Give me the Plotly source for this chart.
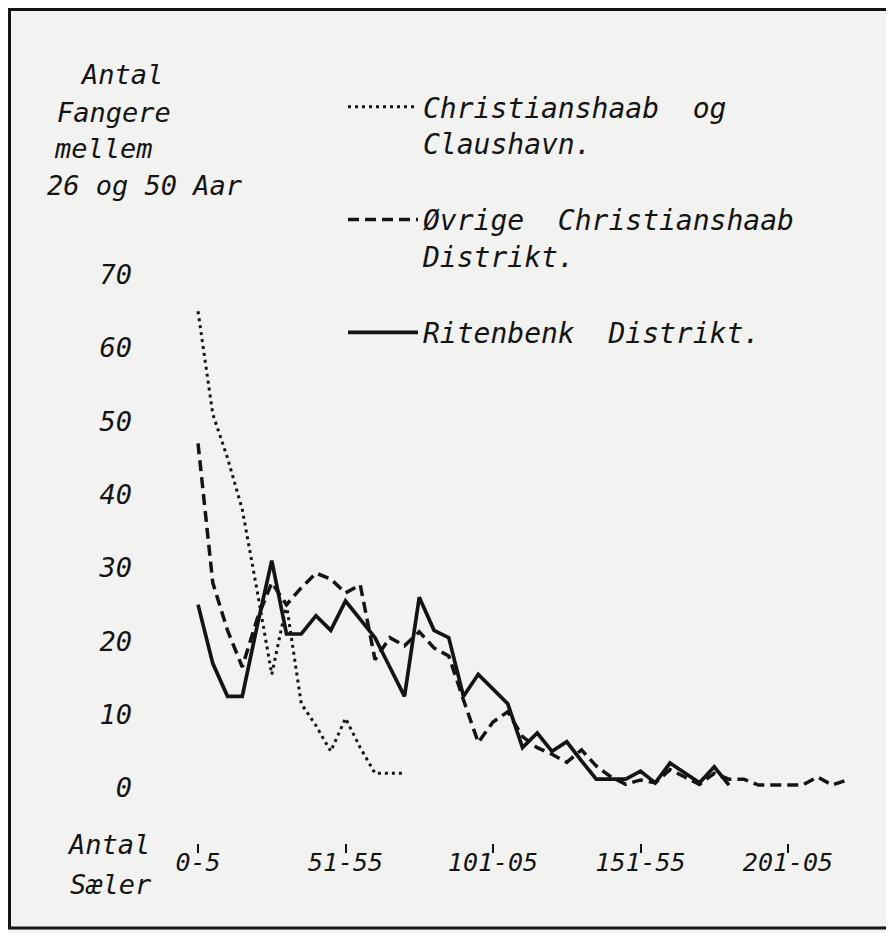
import plotly.graph_objects as go

# ---- data -----------------------------------------------------------
categories = ["0-5"] + [f"{a}-{a+4}" for a in range(6, 226, 5)]
tick_vals = ["0-5", "51-55", "101-105", "151-155", "201-205"]
tick_text = ["0-5", "51-55", "101-05", "151-55", "201-05"]
y_ticks = [0, 10, 20, 30, 40, 50, 60, 70]

christianshaab_claushavn = [65, 51, 45, 38, 27, 15.5, 25, 11.5, 8.5, 5, 9.5, 5.5, 2, 2, 2]
oevrige_christianshaab = [47, 28, 21.5, 16.5, 23, 28, 25, 27.3, 29.3, 28.5, 26.6, 27.7,
                          17.5, 20.5, 19.4, 21.3, 19.1, 18, 12, 6.2, 9, 10.4, 7, 5.5,
                          4.6, 3.5, 5.2, 3, 1.5, 0.5, 1.1, 0.7, 2.5, 1.5, 0.5, 2, 1.2,
                          1.2, 0.4, 0.4, 0.4, 0.4, 1.5, 0.4, 1.1]
ritenbenk = [25, 17, 12.5, 12.5, 22, 31, 21, 21, 23.5, 21.5, 25.5, 23, 20.5, 16.5,
             12.5, 26, 21.5, 20.5, 12.5, 15.5, 13.5, 11.5, 5.5, 7.5, 5, 6.3, 3.7,
             1.2, 1.2, 1.2, 2.3, 0.7, 3.4, 2, 0.7, 2.9, 0.4]

names = ["Christianshaab  og<br>Claushavn.",
         "Øvrige  Christianshaab<br>Distrikt.",
         "Ritenbenk  Distrikt."]

# ---- layout geometry (page body has an 8px margin) -----------------------
OFF = 8
FW, FH = 894 - OFF, 933 - OFF
L, R, T, B = 143 - OFF, 24, 238 - OFF, 90
PW, PH = FW - L - R, FH - T - B


def px(x):  # window pixel -> paper x
    return (x - OFF - L) / PW


def py(y):  # window pixel -> paper y
    return (FH - B - (y - OFF)) / PH


INK = "#141414"
FONT = dict(family="DejaVu Sans Mono", size=27, color=INK, style="italic")
LEGFONT = dict(family="DejaVu Sans Mono", size=28, color=INK, style="italic")

fig = go.Figure()
fig.add_trace(go.Scatter(x=categories[:len(christianshaab_claushavn)], y=christianshaab_claushavn,
                         mode="lines", name=names[0], legendgroup="a",
                         line=dict(color=INK, width=3, dash="3px,4px")))
fig.add_trace(go.Scatter(x=categories[:len(oevrige_christianshaab)], y=oevrige_christianshaab,
                         mode="lines", name=names[1], legendgroup="b",
                         line=dict(color=INK, width=3.5, dash="11px,6px")))
fig.add_trace(go.Scatter(x=categories[:len(ritenbenk)], y=ritenbenk,
                         mode="lines", name=names[2], legendgroup="c",
                         line=dict(color=INK, width=3.7)))

annotations = []
for text, x, y in [("Antal", 78, 75), ("Fangere", 55, 112), ("mellem", 52, 148),
                   ("26 og 50 Aar", 45, 185), ("Antal", 65, 845), ("Sæler", 68, 885)]:
    annotations.append(dict(text=text, x=px(x), y=py(y), xref="paper", yref="paper",
                            xanchor="left", yanchor="middle", showarrow=False, font=FONT))

fig.update_layout(
    width=FW, height=FH,
    margin=dict(l=L, r=R, t=T, b=B, pad=0),
    paper_bgcolor="#f2f2f0", plot_bgcolor="#f2f2f0",
    font=FONT,
    showlegend=True,
    legend=dict(x=px(343), y=py(82), xanchor="left", yanchor="top",
                bgcolor="rgba(0,0,0,0)", font=LEGFONT, itemwidth=70,
                traceorder="grouped", tracegroupgap=37, valign="top"),
    xaxis=dict(type="category", categoryorder="array", categoryarray=categories,
               range=[-3.73, 45.56], tickvals=tick_vals, ticktext=tick_text,
               ticks="outside", ticklen=9, tickwidth=2, tickcolor=INK,
               ticklabelstandoff=-12,
               showgrid=False, zeroline=False, showline=False,
               tickfont=dict(family="DejaVu Sans Mono", size=25, color=INK, style="italic")),
    yaxis=dict(range=[-7.5, 75], tickvals=y_ticks, ticks="", showgrid=False,
               zeroline=False, showline=False, tickfont=FONT, ticklabelstandoff=10),
    annotations=annotations,
    shapes=[dict(type="rect", xref="paper", yref="paper",
                 x0=px(9.5), x1=px(889), y0=py(928), y1=py(9.5),
                 line=dict(color=INK, width=3))],
)

fig.write_html("out.html")
